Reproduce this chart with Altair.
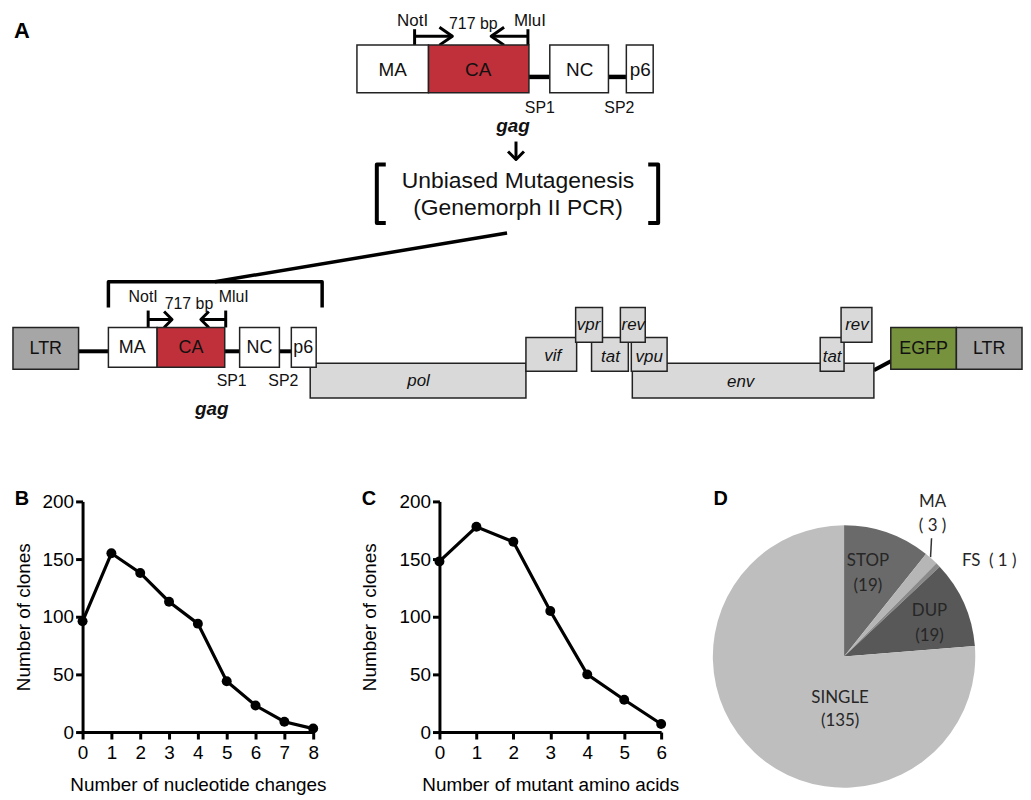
import altair as alt
import pandas as pd

FONT = "Liberation Sans"
PIE_FONT = "Lato"

# ---------------- data: panel B ----------------
nt_changes = [0, 1, 2, 3, 4, 5, 6, 7, 8]
nt_clones = [96, 155, 138, 113, 94, 44, 23, 9, 3]

# ---------------- data: panel C ----------------
aa_changes = [0, 1, 2, 3, 4, 5, 6]
aa_clones = [148, 178, 165, 105, 50, 28, 7]

clone_ticks = [0, 50, 100, 150, 200]

# ---------------- data: panel D ----------------
pie_classes = ["STOP", "MA", "FS", "DUP", "SINGLE"]
pie_counts = [19, 3, 1, 19, 135]
pie_colors = ["#6a6a6a", "#b6b6b6", "#8a8a8a", "#585858", "#bebebe"]

# ---------------- panel A: construct map (labels) ----------------
box_labels = ["pol", "env", "vif", "tat", "vpu", "tat", "vpr", "rev", "rev",
              "MA", "CA", "NC", "p6",
              "LTR", "MA", "CA", "NC", "p6", "EGFP", "LTR"]
box_italic = [True] * 9 + [False] * 11
box_fills = ["#d9d9d9"] * 9 + ["#ffffff", "#c0303a", "#ffffff", "#ffffff",
                               "#a6a6a6", "#ffffff", "#c0303a", "#ffffff", "#ffffff",
                               "#76923c", "#a6a6a6"]

# ---------------- layout (page pixel positions of the diagram) ----------------
box_x0 = [309, 633, 526, 592, 632, 822, 576, 621, 843,
          356, 428, 550, 627,
          10, 106, 155, 238, 290, 893, 959]
box_x1 = [526, 876, 577, 629, 668, 846, 603, 646, 874,
          428, 529, 609, 654,
          76, 155, 223, 278, 315, 959, 1025]
box_y0 = [363, 363, 337, 337, 337, 337, 307, 307, 307,
          43, 43, 43, 43,
          327, 327, 327, 327, 327, 327, 327]
box_y1 = [398, 398, 371, 371, 371, 371, 342, 342, 342,
          91, 91, 91, 91,
          369, 367, 367, 367, 367, 369, 369]
lab_x = [418, 742, 553, 611, 650, 834, 589, 634, 859,
         392, 478, 580, 641,
         43, 130, 189, 258, 302, 926, 992]
lab_y = [381, 382, 356, 357, 357, 357, 325, 325, 325,
         68, 68, 68, 68,
         349, 348, 348, 348, 348, 349, 349]
lab_size = [17] * 9 + [19] * 4 + [18] * 7

# annotation texts
note_text = ["NotI", "717 bp", "MluI", "SP1", "SP2",
             "Unbiased Mutagenesis", "(Genemorph II PCR)",
             "NotI", "717 bp", "MluI", "SP1", "SP2"]
note_x = [412, 473, 530, 540, 620, 518, 518, 141, 187, 232, 230, 282]
note_y = [19, 22, 19, 106, 106, 180, 207, 296, 303, 296, 381, 381]
note_size = [17, 16, 17, 16, 16, 23, 23, 16, 16, 16, 16, 16]

gag_text = ["gag", "gag"]
gag_x = [513, 210]
gag_y = [124, 409]

# polylines: (points, stroke width)
polylines = [
    ([(529, 75), (550, 75)], 4.5), ([(609, 75), (627, 75)], 4.5),
    ([(76, 351), (106, 351)], 4), ([(223, 351), (238, 351)], 4), ([(278, 351), (290, 351)], 4),
    ([(876, 370), (893, 361)], 4),
    ([(507, 232), (213, 281)], 3.5),
    ([(106, 307), (106, 281), (321, 281), (321, 307)], 3.5),
    ([(385, 163), (376, 163), (376, 222), (385, 222)], 4),
    ([(649, 163), (659, 163), (659, 222), (649, 222)], 4),
    # top primers
    ([(414, 27), (414, 43)], 3), ([(414, 34), (452, 34)], 3), ([(439, 25), (452, 34), (439, 43)], 3),
    ([(528, 27), (528, 43)], 3), ([(528, 34), (491, 34)], 3), ([(504, 25), (491, 34), (504, 43)], 3),
    # bottom primers
    ([(146, 310), (146, 327)], 3), ([(146, 319), (170, 319)], 3), ([(162, 311), (170, 319), (162, 327)], 3),
    ([(224, 310), (224, 327)], 3), ([(224, 319), (199, 319)], 3), ([(207, 311), (199, 319), (207, 327)], 3),
    # down arrow
    ([(516, 140), (516, 158)], 3), ([(508, 150), (516, 158), (524, 150)], 3),
]

# ---------------- panel A chart ----------------
xsA = alt.Scale(domain=[8, 1023], nice=False, zero=False)
ysA = alt.Scale(domain=[8, 502], nice=False, zero=False, reverse=True)

boxes = pd.DataFrame({"label": box_labels, "italic": box_italic, "fill": box_fills,
                      "x0": box_x0, "x1": box_x1, "y0": box_y0, "y1": box_y1,
                      "lx": lab_x, "ly": lab_y, "size": lab_size})

rects = alt.Chart(boxes).mark_rect(stroke="#222222", strokeWidth=1.5).encode(
    x=alt.X("x0:Q", scale=xsA, axis=None), x2="x1:Q",
    y=alt.Y("y0:Q", scale=ysA, axis=None), y2="y1:Q",
    fill=alt.Fill("fill:N", scale=None),
)


def box_text(italic):
    return alt.Chart(boxes[boxes["italic"] == italic]).mark_text(
        font=FONT, fontStyle="italic" if italic else "normal", color="#111111",
        align="center", baseline="middle"
    ).encode(
        x=alt.X("lx:Q", scale=xsA, axis=None), y=alt.Y("ly:Q", scale=ysA, axis=None),
        text="label:N", size=alt.Size("size:Q", scale=None),
    )


notes = pd.DataFrame({"t": note_text, "x": note_x, "y": note_y, "size": note_size})
notes_layer = alt.Chart(notes).mark_text(font=FONT, color="#111111", align="center",
                                         baseline="middle").encode(
    x=alt.X("x:Q", scale=xsA, axis=None), y=alt.Y("y:Q", scale=ysA, axis=None),
    text="t:N", size=alt.Size("size:Q", scale=None))

gags = pd.DataFrame({"t": gag_text, "x": gag_x, "y": gag_y})
gag_layer = alt.Chart(gags).mark_text(font=FONT, fontStyle="italic", fontWeight="bold",
                                      fontSize=19, color="#111111",
                                      align="center", baseline="middle").encode(
    x=alt.X("x:Q", scale=xsA, axis=None), y=alt.Y("y:Q", scale=ysA, axis=None), text="t:N")

rows = []
for i, (pts, w) in enumerate(polylines):
    for j, (px, py) in enumerate(pts):
        rows.append({"id": i, "o": j, "x": px, "y": py, "w": w})
lines_df = pd.DataFrame(rows)
lines_layer = alt.Chart(lines_df).mark_line(color="black", strokeJoin="round").encode(
    x=alt.X("x:Q", scale=xsA, axis=None), y=alt.Y("y:Q", scale=ysA, axis=None),
    detail="id:N", order="o:Q", strokeWidth=alt.StrokeWidth("w:Q", scale=None))

letterA = alt.Chart(pd.DataFrame({"t": ["A"], "x": [19], "y": [29]})).mark_text(
    font=FONT, fontWeight="bold", fontSize=22, color="black", align="center", baseline="middle"
).encode(x=alt.X("x:Q", scale=xsA, axis=None), y=alt.Y("y:Q", scale=ysA, axis=None), text="t:N")

panelA = alt.layer(lines_layer, rects, box_text(True), box_text(False), notes_layer,
                   gag_layer, letterA).properties(width=1015, height=494)

# ---------------- panels B and C ----------------
axis_common = dict(domainColor="black", domainWidth=3, tickColor="black", tickWidth=3,
                   tickSize=7, labelFont=FONT, labelFontSize=19, labelColor="black",
                   titleFont=FONT, titleFontSize=19, titleFontWeight="normal",
                   titleColor="black", grid=False, labelFlush=False,
                   labelOverlap=False)


def profile(xs, ys, xtitle, width, ytitle_pad, letter, letter_dx):
    df = pd.DataFrame({"x": xs, "y": ys})
    base = alt.Chart(df).encode(
        x=alt.X("x:Q", scale=alt.Scale(domain=[0, max(xs)], nice=False, zero=False),
                axis=alt.Axis(values=xs, title=xtitle, format="d", titlePadding=13,
                              labelPadding=5, **axis_common)),
        y=alt.Y("y:Q", scale=alt.Scale(domain=[0, 200], nice=False),
                axis=alt.Axis(values=clone_ticks, title="Number of clones",
                              titlePadding=ytitle_pad, labelPadding=2, **axis_common)),
    )
    line = base.mark_line(color="black", strokeWidth=3.2)
    pts = base.mark_circle(size=100, color="black", opacity=1)
    lab = alt.Chart(pd.DataFrame({"t": [letter]})).mark_text(
        font=FONT, fontSize=20, fontWeight="bold", color="black",
        align="center", baseline="middle"
    ).encode(text="t:N", x=alt.value(letter_dx), y=alt.value(-2))
    return alt.layer(line, pts, lab).properties(width=width, height=232)


panelB = profile(nt_changes, nt_clones, "Number of nucleotide changes", 232, 9, "B", -61)
panelC = profile(aa_changes, aa_clones, "Number of mutant amino acids", 223, 20, "C", -71)

# ---------------- panel D ----------------
xsD = alt.Scale(domain=[789, 1023], nice=False, zero=False)
ysD = alt.Scale(domain=[502, 734], nice=False, zero=False, reverse=True)

pie_df = pd.DataFrame({"cls": pie_classes, "n": pie_counts, "col": pie_colors,
                       "k": list(range(len(pie_classes)))})
arcs = alt.Chart(pie_df).mark_arc(radius=132).encode(
    theta=alt.Theta("n:Q", stack=True), order=alt.Order("k:Q"),
    color=alt.Color("col:N", scale=None, legend=None),
    x=alt.value(57), y=alt.value(156),
)

# label lines built from the data (non-breaking spaces keep the wide gaps)
NB = "\u00a0"
pie_lines = []
for c, n in zip(pie_classes, pie_counts):
    if c == "FS":
        pie_lines.append([f"{c}{NB}{NB}({NB}{n}{NB})"])
    elif n < 10:
        pie_lines.append([c, f"({NB}{n}{NB})"])
    else:
        pie_lines.append([c, f"({n})"])
# layout: label anchor positions (page px) and line spacing
pie_lab_x = [870, 935, 992, 932, 842]
pie_lab_y = [562, 503, 562, 612, 700]
pie_line_gap = [25, 24, 0, 25, 23]
prow = []
for lines_, lx, ly, g in zip(pie_lines, pie_lab_x, pie_lab_y, pie_line_gap):
    for j, t in enumerate(lines_):
        prow.append({"t": t, "x": lx, "y": ly + j * g})
pie_text = alt.Chart(pd.DataFrame(prow)).mark_text(
    font=PIE_FONT, fontSize=17, color="#262626", align="center", baseline="middle"
).encode(x=alt.X("x:Q", scale=xsD, axis=None), y=alt.Y("y:Q", scale=ysD, axis=None), text="t:N")

pointer = alt.Chart(pd.DataFrame({"x": [934], "y": [539], "x2": [933], "y2": [558]})).mark_rule(
    color="#333333", strokeWidth=1.5
).encode(x=alt.X("x:Q", scale=xsD, axis=None), y=alt.Y("y:Q", scale=ysD, axis=None),
         x2="x2:Q", y2="y2:Q")

letterD = alt.Chart(pd.DataFrame({"t": ["D"], "x": [722], "y": [500]})).mark_text(
    font=FONT, fontWeight="bold", fontSize=20, color="black", align="center", baseline="middle"
).encode(x=alt.X("x:Q", scale=xsD, axis=None), y=alt.Y("y:Q", scale=ysD, axis=None), text="t:N")

panelD = alt.layer(arcs, pointer, pie_text, letterD).properties(width=234, height=232)


def spacer(w):
    return alt.Chart(pd.DataFrame({"v": [0]})).mark_point(opacity=0).encode(
        x=alt.value(0), y=alt.value(0)).properties(width=w, height=232)


row2 = alt.hconcat(spacer(72), panelB, spacer(127), panelC, spacer(127), panelD,
                   spacing=0, bounds="flush")

chart = alt.vconcat(panelA, row2, spacing=0, bounds="flush", padding=0).configure(
    background="white").configure_view(stroke=None)

chart.save("out.html", embed_options={"renderer": "svg", "actions": False})
